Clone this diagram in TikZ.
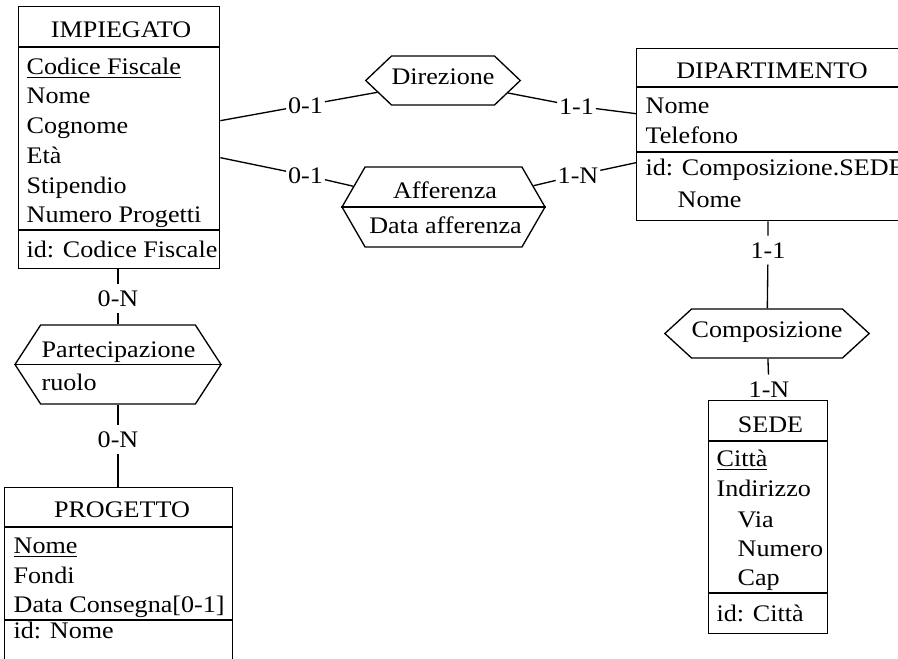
\documentclass[tikz,border=0pt]{standalone}
\usepackage{fontspec}
\setmainfont{Liberation Serif}[FakeStretch=1.1]
\usetikzlibrary{shapes.symbols}

% underlined key attribute
\newcommand\keyattr[1]{\setbox0\hbox{#1}\rlap{\rule[-3pt]{\wd0}{1.1pt}}\box0}

\tikzset{every picture/.style={line width=1pt}}
\tikzset{
  entity/.style 2 args={draw, anchor=north west, inner sep=0pt, minimum width=#1*0.75pt, minimum height=#2*0.75pt},
  relation/.style 2 args={draw, signal, signal to=east and west, inner sep=0pt, minimum width=#1*0.75pt, minimum height=#2*0.75pt, text height=0.68em, text depth=0.05em},
  card/.style={anchor=base, inner xsep=1pt, inner ysep=4.5pt},
  attr/.style={anchor=base west, inner sep=0pt},
  ename/.style={anchor=base, inner sep=0pt},
}

\begin{document}
\begin{tikzpicture}[x=0.75pt,y=0.75pt,yscale=-1,xscale=1,font=\fontsize{17.8}{22}\selectfont]
\useasboundingbox (0,0) rectangle (898,658);
\clip (0,0) rectangle (898,658);

%Shape: Entity IMPIEGATO
\node [entity={201}{262}] (imp) at (18,6) {};
\draw (imp.west |- 0,47) -- (imp.east |- 0,47) ;
\draw (imp.west |- 0,230) -- (imp.east |- 0,230) ;
%Shape: Entity DIPARTIMENTO
\node [entity={272}{172}] (dip) at (636,48) {};
\draw (dip.west |- 0,87) -- (dip.east |- 0,87) ;
\draw (dip.west |- 0,152) -- (dip.east |- 0,152) ;
%Shape: Entity SEDE
\node [entity={119}{233}] (sede) at (708,400) {};
\draw (sede.west |- 0,441) -- (sede.east |- 0,441) ;
\draw (sede.west |- 0,593) -- (sede.east |- 0,593) ;
%Shape: Entity PROGETTO
\node [entity={228}{183}] (prog) at (4,487) {};
\draw (prog.west |- 0,527) -- (prog.east |- 0,527) ;
\draw (prog.west |- 0,620) -- (prog.east |- 0,620) ;

%Shape: Relationships
\node [relation={152}{49}, signal pointer angle=87] (dir) at (443,80.5) {Direzione};
\node [relation={203}{80}, signal pointer angle=120] (aff) at (443.5,207) {};
\draw (aff.west) -- (aff.east) ;
\node [relation={206}{79}, signal pointer angle=114] (par) at (118,364.5) {};
\draw (par.west) -- (par.east) ;
\node [relation={202}{49}, signal pointer angle=85] (comp) at (767,333.5) {Composizione};

% Cardinalities
\node [card] (cImpDir) at (305.5,113) {0-1};
\node [card] (cDipDir) at (576.5,114) {1-1};
\node [card] (cImpAff) at (305.5,183) {0-1};
\node [card] (cDipAff) at (578,183) {1-N};
\node [card] (cDipComp) at (768,258) {1-1};
\node [card] (cSedeComp) at (769,397) {1-N};
\node [card] (cImpPar) at (118,306) {0-N};
\node [card] (cProgPar) at (118,447) {0-N};

%Straight Lines
\draw (imp.east) ++(0,-17) -- (cImpDir) -- (dir) ;
\draw (dip.west) ++(0,-21) -- (cDipDir) -- (dir) ;
\draw (imp.east) ++(0,20) -- (cImpAff) -- (aff) ;
\draw (dip.west) ++(0,28) -- (cDipAff) -- (aff) ;
\draw (dip.south -| cDipComp) -- (cDipComp) -- (comp) ;
\draw (comp) -- (cSedeComp) ;
\draw (imp.south -| cImpPar) -- (cImpPar) -- (par) ;
\draw (par) -- (cProgPar) -- (prog.north -| cProgPar) ;

% Text Node
\node [ename] (impT) at (121,37) {IMPIEGATO};
\node [attr] (imp1) at (26,74) {\keyattr{Codice Fiscale}};
\node [attr] (imp2) at (26,103) {Nome};
\node [attr] (imp3) at (26,133) {Cognome};
\node [attr] (imp4) at (26,163) {Età};
\node [attr] (imp5) at (26,193) {Stipendio};
\node [attr] (imp6) at (26,222) {Numero Progetti};
\node [attr] (impId) at (26,257) {id: Codice Fiscale};
% Text Node
\node [ename] (dipT) at (772,78) {DIPARTIMENTO};
\node [attr] (dip1) at (645,113) {Nome};
\node [attr] (dip2) at (645,143) {Telefono};
\node [attr] (dipId) at (645,175) {id: Composizione.SEDE};
\node [attr] (dipId2) at (677,207) {Nome};
% Text Node
\node [ename] (sedeT) at (770.5,432) {SEDE};
\node [attr] (sede1) at (716,466) {\keyattr{Città}};
\node [attr] (sede2) at (716,496) {Indirizzo};
\node [attr] (sede3) at (737,527) {Via};
\node [attr] (sede4) at (737,556) {Numero};
\node [attr] (sede5) at (737,585) {Cap};
\node [attr] (sedeId) at (716,621) {id: Città};
% Text Node
\node [ename] (progT) at (122,517) {PROGETTO};
\node [attr] (prog1) at (13,553) {\keyattr{Nome}};
\node [attr] (prog2) at (13,583) {Fondi};
\node [attr] (prog3) at (13,612) {Data Consegna[0-1]};
\node [attr] (progId) at (13,638) {id: Nome};
% Text Node
\node [ename] (affN) at (445,198) {Afferenza};
\node [ename] (affA) at (445.5,233) {Data afferenza};
\node [ename] (parN) at (118.5,357) {Partecipazione};
\node [attr] (parA) at (41,390) {ruolo};

\end{tikzpicture}
\end{document}
